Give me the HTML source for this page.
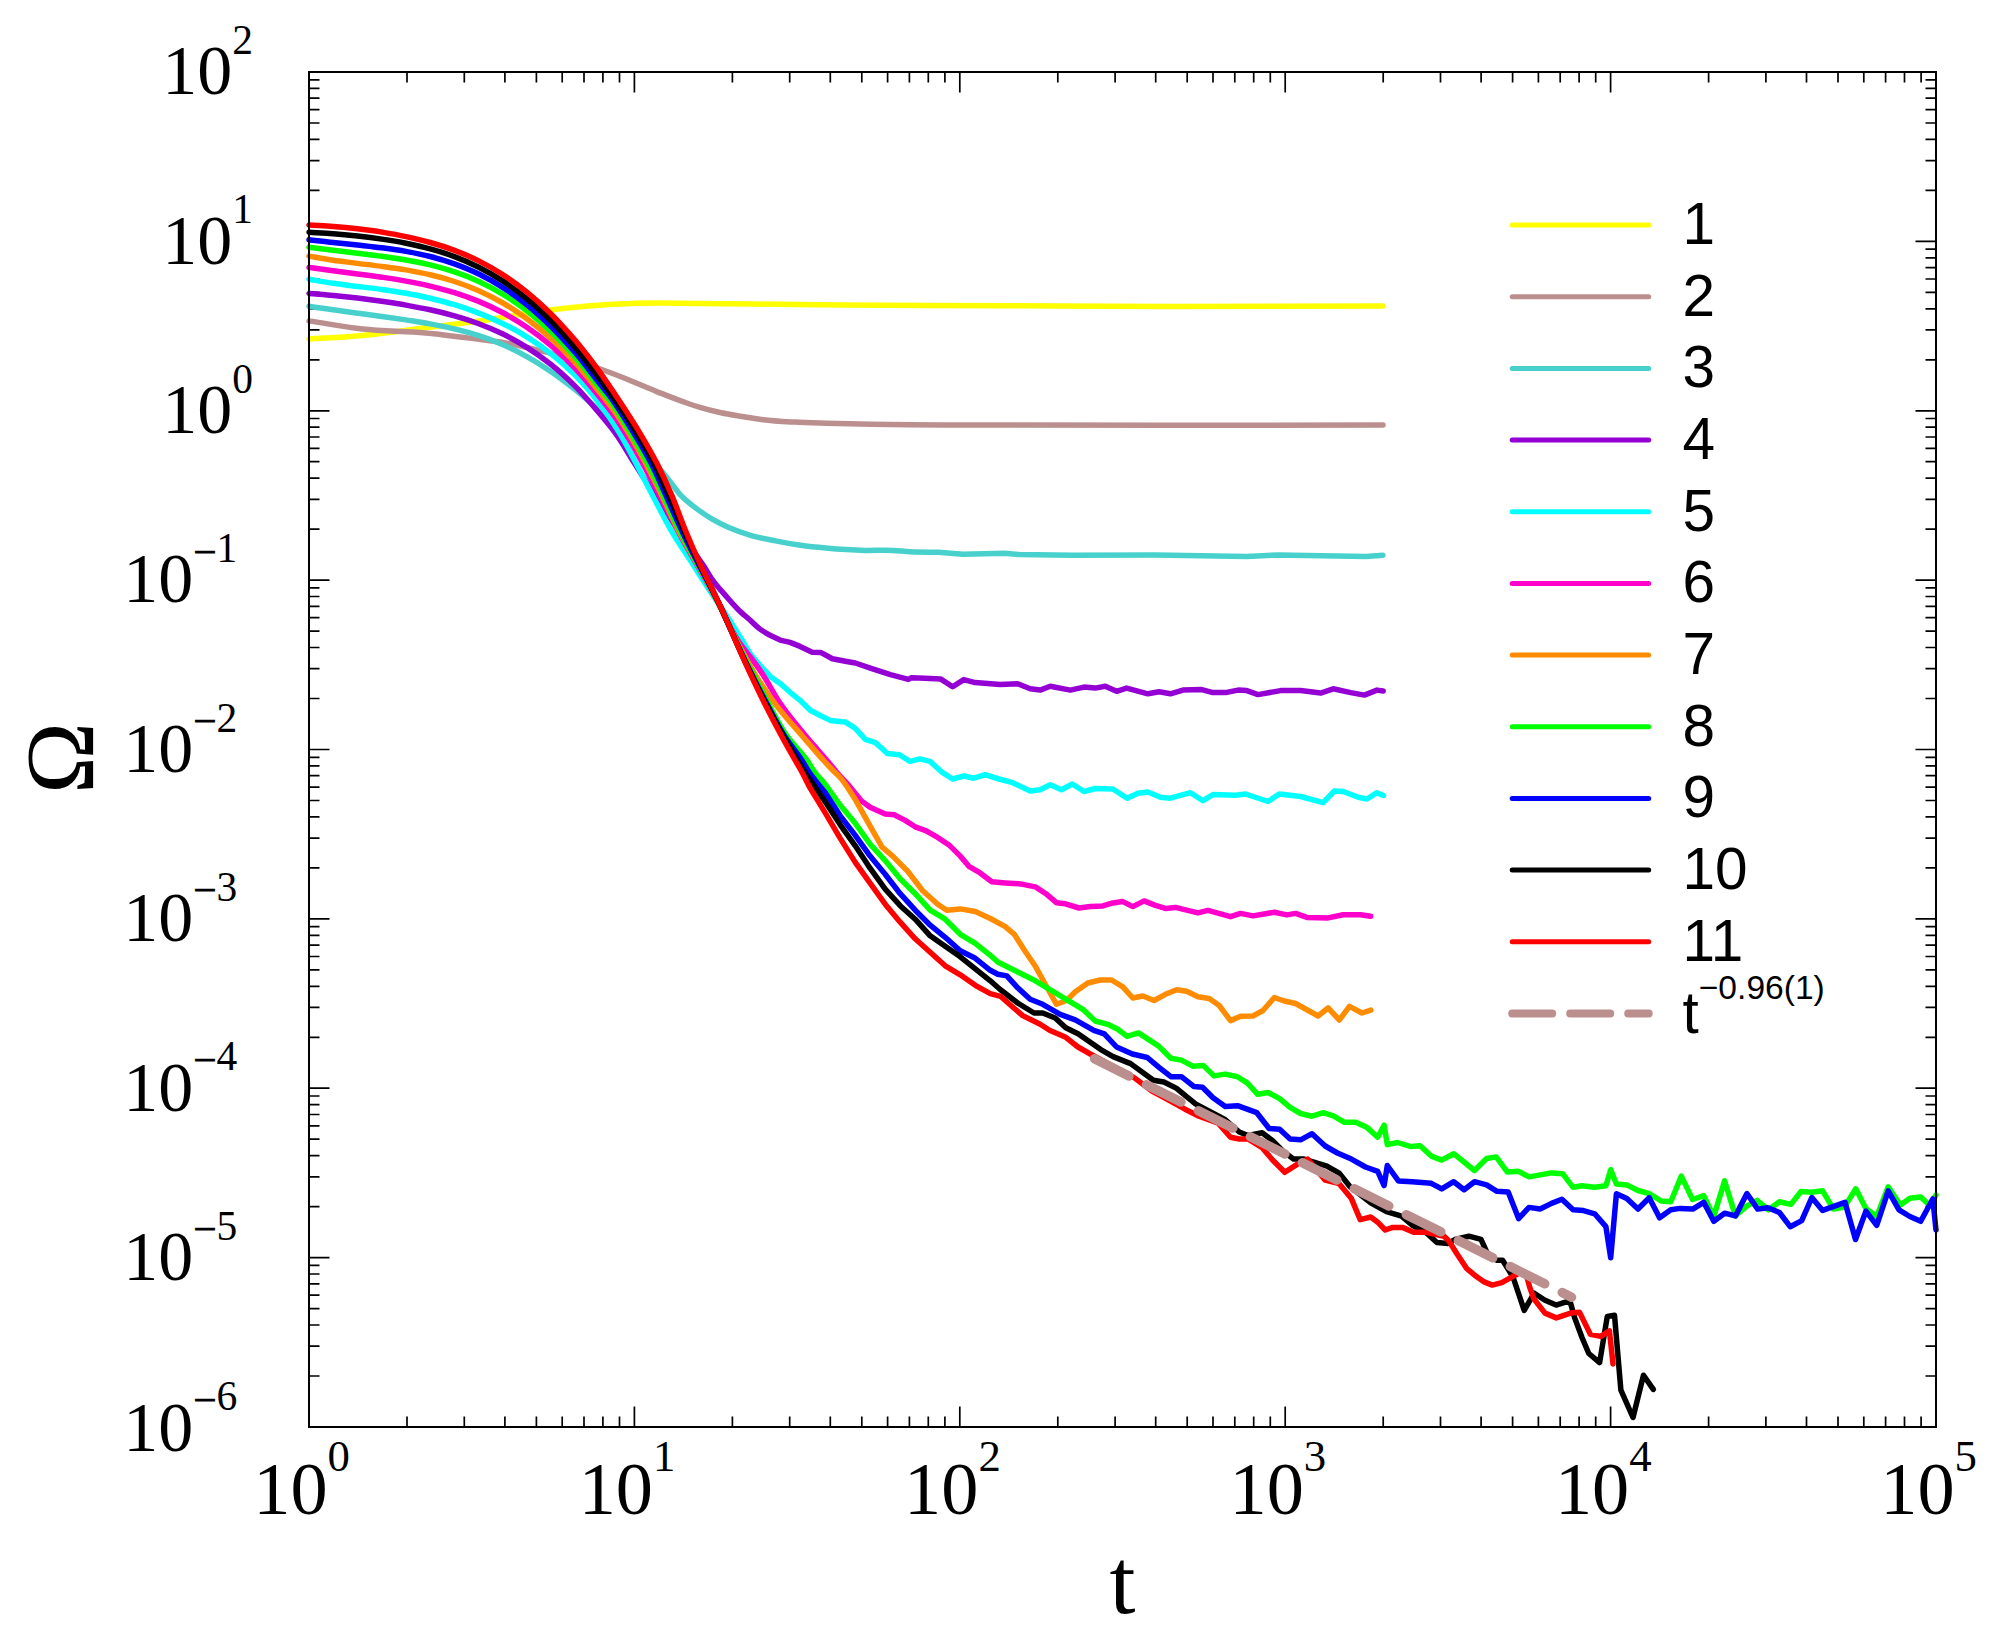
<!DOCTYPE html>
<html><head><meta charset="utf-8"><title>plot</title><style>html,body{margin:0;padding:0;background:#fff}svg{display:block}</style></head><body>
<svg width="1997" height="1635" viewBox="0 0 1997 1635">
<rect width="1997" height="1635" fill="#fff"/>
<path d="M407 1427v-10.5M407 72v10.5M464.3 1427v-10.5M464.3 72v10.5M504.9 1427v-10.5M504.9 72v10.5M536.4 1427v-10.5M536.4 72v10.5M562.2 1427v-10.5M562.2 72v10.5M584 1427v-10.5M584 72v10.5M602.9 1427v-10.5M602.9 72v10.5M619.5 1427v-10.5M619.5 72v10.5M634.4 1427v-20.5M634.4 72v20.5M732.4 1427v-10.5M732.4 72v10.5M789.7 1427v-10.5M789.7 72v10.5M830.3 1427v-10.5M830.3 72v10.5M861.8 1427v-10.5M861.8 72v10.5M887.6 1427v-10.5M887.6 72v10.5M909.4 1427v-10.5M909.4 72v10.5M928.3 1427v-10.5M928.3 72v10.5M944.9 1427v-10.5M944.9 72v10.5M959.8 1427v-20.5M959.8 72v20.5M1057.8 1427v-10.5M1057.8 72v10.5M1115.1 1427v-10.5M1115.1 72v10.5M1155.7 1427v-10.5M1155.7 72v10.5M1187.2 1427v-10.5M1187.2 72v10.5M1213 1427v-10.5M1213 72v10.5M1234.8 1427v-10.5M1234.8 72v10.5M1253.7 1427v-10.5M1253.7 72v10.5M1270.3 1427v-10.5M1270.3 72v10.5M1285.2 1427v-20.5M1285.2 72v20.5M1383.2 1427v-10.5M1383.2 72v10.5M1440.5 1427v-10.5M1440.5 72v10.5M1481.1 1427v-10.5M1481.1 72v10.5M1512.6 1427v-10.5M1512.6 72v10.5M1538.4 1427v-10.5M1538.4 72v10.5M1560.2 1427v-10.5M1560.2 72v10.5M1579.1 1427v-10.5M1579.1 72v10.5M1595.7 1427v-10.5M1595.7 72v10.5M1610.6 1427v-20.5M1610.6 72v20.5M1708.6 1427v-10.5M1708.6 72v10.5M1765.9 1427v-10.5M1765.9 72v10.5M1806.5 1427v-10.5M1806.5 72v10.5M1838 1427v-10.5M1838 72v10.5M1863.8 1427v-10.5M1863.8 72v10.5M1885.6 1427v-10.5M1885.6 72v10.5M1904.5 1427v-10.5M1904.5 72v10.5M1921.1 1427v-10.5M1921.1 72v10.5M309 1376h10.5M1936 1376h-10.5M309 1346.2h10.5M1936 1346.2h-10.5M309 1325h10.5M1936 1325h-10.5M309 1308.6h10.5M1936 1308.6h-10.5M309 1295.2h10.5M1936 1295.2h-10.5M309 1283.9h10.5M1936 1283.9h-10.5M309 1274h10.5M1936 1274h-10.5M309 1265.4h10.5M1936 1265.4h-10.5M309 1257.6h20.5M1936 1257.6h-20.5M309 1206.6h10.5M1936 1206.6h-10.5M309 1176.8h10.5M1936 1176.8h-10.5M309 1155.7h10.5M1936 1155.7h-10.5M309 1139.2h10.5M1936 1139.2h-10.5M309 1125.8h10.5M1936 1125.8h-10.5M309 1114.5h10.5M1936 1114.5h-10.5M309 1104.7h10.5M1936 1104.7h-10.5M309 1096h10.5M1936 1096h-10.5M309 1088.2h20.5M1936 1088.2h-20.5M309 1037.3h10.5M1936 1037.3h-10.5M309 1007.4h10.5M1936 1007.4h-10.5M309 986.3h10.5M1936 986.3h-10.5M309 969.9h10.5M1936 969.9h-10.5M309 956.5h10.5M1936 956.5h-10.5M309 945.1h10.5M1936 945.1h-10.5M309 935.3h10.5M1936 935.3h-10.5M309 926.6h10.5M1936 926.6h-10.5M309 918.9h20.5M1936 918.9h-20.5M309 867.9h10.5M1936 867.9h-10.5M309 838.1h10.5M1936 838.1h-10.5M309 816.9h10.5M1936 816.9h-10.5M309 800.5h10.5M1936 800.5h-10.5M309 787.1h10.5M1936 787.1h-10.5M309 775.7h10.5M1936 775.7h-10.5M309 765.9h10.5M1936 765.9h-10.5M309 757.3h10.5M1936 757.3h-10.5M309 749.5h20.5M1936 749.5h-20.5M309 698.5h10.5M1936 698.5h-10.5M309 668.7h10.5M1936 668.7h-10.5M309 647.5h10.5M1936 647.5h-10.5M309 631.1h10.5M1936 631.1h-10.5M309 617.7h10.5M1936 617.7h-10.5M309 606.4h10.5M1936 606.4h-10.5M309 596.5h10.5M1936 596.5h-10.5M309 587.9h10.5M1936 587.9h-10.5M309 580.1h20.5M1936 580.1h-20.5M309 529.1h10.5M1936 529.1h-10.5M309 499.3h10.5M1936 499.3h-10.5M309 478.2h10.5M1936 478.2h-10.5M309 461.7h10.5M1936 461.7h-10.5M309 448.3h10.5M1936 448.3h-10.5M309 437h10.5M1936 437h-10.5M309 427.2h10.5M1936 427.2h-10.5M309 418.5h10.5M1936 418.5h-10.5M309 410.8h20.5M1936 410.8h-20.5M309 359.8h10.5M1936 359.8h-10.5M309 329.9h10.5M1936 329.9h-10.5M309 308.8h10.5M1936 308.8h-10.5M309 292.4h10.5M1936 292.4h-10.5M309 279h10.5M1936 279h-10.5M309 267.6h10.5M1936 267.6h-10.5M309 257.8h10.5M1936 257.8h-10.5M309 249.1h10.5M1936 249.1h-10.5M309 241.4h20.5M1936 241.4h-20.5M309 190.4h10.5M1936 190.4h-10.5M309 160.6h10.5M1936 160.6h-10.5M309 139.4h10.5M1936 139.4h-10.5M309 123h10.5M1936 123h-10.5M309 109.6h10.5M1936 109.6h-10.5M309 98.2h10.5M1936 98.2h-10.5M309 88.4h10.5M1936 88.4h-10.5M309 79.8h10.5M1936 79.8h-10.5" fill="none" stroke="#000" stroke-width="1.7"/>
<g fill="none" stroke-width="5.5" stroke-linejoin="round" stroke-linecap="round">
<path stroke="#ffff00" d="M309 339.1C326.9 337.9 344.8 337.1 362.7 335.4C383.7 333.5 404.5 330.4 425.4 327.8C446.3 325.2 467.2 322.7 488.1 319.7C508.8 316.8 529.4 312.7 550.2 310.1C562.7 308.5 575.2 307.1 587.8 306C602.4 304.7 617 303.9 631.6 303.4C654.4 302.6 677.2 303.3 700 303.4C717.5 303.5 735.1 303.8 752.6 304C781.8 304.3 811 304.7 840.2 305C898.6 305.5 957.1 305.4 1015.5 305.8C1029.5 305.9 1043.5 306 1057.5 306.1C1166 306.8 1274.5 306.1 1383 306.1"/>
<path stroke="#bc8f8f" d="M309 320.9C326.9 323.6 344.7 327.1 362.7 329.1C383.5 331.4 404.6 331 425.4 332.9C446.4 334.8 467.2 337.9 488.1 340.5C492.1 341 496 341.4 500 342C510.5 343.6 520.9 346.1 531.3 348.5C537.6 350 543.9 351.4 550.2 353.1C558.6 355.4 566.9 358.2 575.2 360.8C583.6 363.5 592 366.1 600.3 369C608.7 372 617.1 375.2 625.4 378.5C635.9 382.7 646.2 387.4 656.7 391.6C667.1 395.7 677.5 399.9 688.1 403.5C692 404.8 696 406.2 700 407.4C706.9 409.5 713.9 411.2 721 412.7C728 414.2 735.1 415.3 742.1 416.5C749.1 417.7 756.1 418.8 763.1 419.7C773.5 421 784.1 421.5 794.6 422.1C805.1 422.7 815.7 422.9 826.2 423.2C841.4 423.6 856.5 423.9 871.7 424.2C896.3 424.6 920.8 424.7 945.4 424.9C1091.3 426.1 1237.1 424.9 1383 424.9"/>
<path stroke="#48d1cc" d="M309 306.3C317.1 307.4 325.2 308.6 333.2 309.7C341.3 310.9 349.4 312.1 357.5 313.2C365.6 314.3 373.7 315.4 381.8 316.5C389.8 317.7 397.9 318.7 406 319.9C414.1 321.2 422.2 322.4 430.2 323.9C438.4 325.4 446.5 326.9 454.5 328.9C462.7 330.9 470.8 333.1 478.8 335.7C487 338.3 495.1 341.4 503 344.8C511.3 348.4 519.4 352.4 527.2 356.8C535.6 361.4 543.6 366.6 551.5 372C559.8 377.7 567.9 383.9 575.8 390.2C584.1 396.9 592 404 600 411.1C604 414.7 608 418.3 612 422C620.5 429.8 628.8 437.9 637 446C644.7 453.6 652.9 460.8 660 469C664.2 473.9 668.1 479.2 672.1 484.3C674.8 487.7 677.2 491.4 680.1 494.6C684.8 499.8 690.6 504.1 696.2 508.4C701.3 512.3 706.7 516 712.2 519.2C717.4 522.2 722.7 524.9 728.2 527.3C735.4 530.5 742.9 533.1 750.5 535.3C758.7 537.7 767.1 539.2 775.5 540.9C783.8 542.6 792.2 544.1 800.6 545.3C808.9 546.5 817.3 547.3 825.7 548C838.7 549.2 851.7 550.1 864.7 550.4C874.1 550.6 883.5 549.9 892.8 550.4C898.6 550.7 904.5 551.5 910.3 551.8C919.6 552.3 929 552.1 938.3 552.2L962.9 554.3L1004.9 553.2L1019 554.6L1071.5 555.3L1155.6 555L1201.2 555.7L1246.8 556.4L1278.3 555L1366 556.4L1383 555.2"/>
<path stroke="#9400d3" d="M309 293.4C317.1 294.1 325.2 294.6 333.2 295.4C341.3 296.2 349.4 297.1 357.5 298.1C365.6 299.1 373.7 300.2 381.8 301.3C389.8 302.5 397.9 303.7 406 305.1C414.1 306.6 422.2 308.1 430.2 309.8C438.4 311.6 446.5 313.6 454.5 315.9C462.7 318.2 470.8 320.7 478.8 323.7C487 326.8 495.1 330.2 503 334C511.3 338.1 519.4 342.6 527.2 347.6C535.6 352.8 543.8 358.7 551.5 364.9C560 371.7 568.1 379.2 575.8 386.9C584.3 395.5 592.2 404.8 600 414.1C605 420 610 425.9 614.6 432.1C622.1 442.2 628.2 453.4 635 464.1C641.3 474.1 647.5 484.1 654 494C662.1 506.5 670.5 518.8 679 531C687.2 542.9 696.2 554.4 704.1 566.6C707.1 571.2 709.6 576 712.8 580.4C716.6 585.7 721.1 590.5 725.4 595.4C729.5 600.1 733.5 604.8 737.9 609.2C741.9 613.2 746.3 616.7 750.5 620.5C753.7 623.4 756.6 626.6 760 629.1C763.1 631.4 766.7 633.2 770 635.3L780.1 640.1L790.1 642.4L800.1 646.4L812.2 652.2L820.6 652.4L832.4 658.7L845.3 661.2L855.3 663L870.3 668.2L890.4 674.7L908.4 679.4L911.5 677.7L925 678.3L940.5 678.9L952.6 686.8L963.8 679.6L975.1 682.6L1000.2 684.6L1017.7 683.8L1030.2 688.8L1040.2 690.1L1050.2 686.3L1070.3 690.1L1084 687.1L1095.3 688.1L1105.3 686.3L1116.6 691.3L1126.6 688.1L1147.9 693.8L1159.1 691.8L1170.4 693.8L1182.9 690.1L1201.7 689.6L1213 692.6L1225.5 692.6L1238 690.1L1246.8 690.6L1258 694.6L1280.6 690.6L1300.6 690.6L1320.6 693.1L1333.2 688.8L1350.7 692.6L1364.4 695.1L1377 690.1L1383.2 691"/>
<path stroke="#00ffff" d="M309 279.2C317.1 280.6 325.1 282.1 333.2 283.3C341.3 284.5 349.4 285.4 357.5 286.4C365.6 287.4 373.7 288.3 381.8 289.5C389.8 290.6 398 291.8 406 293.3C414.1 294.7 422.2 296.3 430.2 298.2C438.4 300.2 446.5 302.3 454.5 304.7C462.7 307.2 470.8 310 478.8 313.1C487 316.3 495.1 319.8 503 323.7C511.3 327.7 519.4 332.2 527.2 337.1C535.6 342.3 543.8 348 551.5 354.1C560 360.8 568.1 368.2 575.8 375.9C584.4 384.7 592.5 394.3 600 404.1C606.8 413.1 613.1 422.5 619 432.1C625.4 442.5 630.8 453.4 636.5 464.1C642.1 474.7 647.4 485.5 653 496.2C659.1 507.8 664.9 519.7 671.5 531C677.9 541.9 685.1 552.2 691.9 562.8C697.9 572.2 703.9 581.7 710 591C715.9 599.9 722.1 608.6 727.9 617.5C732.7 624.9 737.3 632.5 742 640C745.3 645.3 748.2 651 752 656C754.5 659.3 757.3 662.3 760 665.4L770 676.2L780.1 683.4L790.1 692.3L800.1 700.3L810.2 710.3L820.2 715.5L830.2 720.4L845.3 721.9L855.3 728.4L865.3 739.4L875.4 742.6L887.4 753.5L899.4 754.7L910 761.4L920 758.9L930 761.4L942.6 772.7L952.6 779L963.8 776L973.9 778.2L985.1 774.7L998.9 779L1012.7 782.7L1030.2 791L1040.2 789.7L1050.2 784.7L1061.5 789.7L1072.3 784L1084 791.5L1095.3 788.5L1112.8 789L1127.1 798.2L1137.9 793.2L1147.9 792L1160.4 797.2L1170.4 798.2L1190.4 792.7L1203 800.7L1213 794.5L1235.5 795.2L1245.5 794L1268 801.5L1279.3 794L1300.6 796.5L1323.1 802.7L1334.4 791L1343.2 791.5L1358.2 797.2L1367 799L1377 792.7L1383.4 795.5"/>
<path stroke="#ff00cc" d="M309 267.4C317.1 268.5 325.2 269.7 333.2 270.8C341.3 271.8 349.4 272.8 357.5 273.9C365.6 274.9 373.7 276 381.8 277.2C389.8 278.4 397.9 279.6 406 281.1C414.1 282.6 422.2 284.2 430.2 286.1C438.4 288.1 446.5 290.2 454.5 292.7C462.7 295.3 470.8 298.2 478.8 301.4C487 304.8 495.1 308.6 503 312.8C511.3 317.2 519.4 322.1 527.2 327.4C535.7 333.1 543.8 339.4 551.5 346C560 353.2 568.1 361 575.8 369.1C584.3 378.1 592.2 387.8 600 397.5C604.7 403.3 609.4 409.1 613.7 415.2C619.2 422.9 624.1 431.1 629 439.2C633.7 447.1 638.2 455.1 642.6 463.2C647 471.1 651 479.2 655.2 487.2C659.4 495.2 663.5 503.2 667.7 511.2C671.8 519.2 675.9 527.3 680.2 535.2C684.5 543.3 689.2 551.2 693.7 559.2C698.3 567.2 702.9 575.2 707.4 583.2C711.9 591.2 716.7 599 720.8 607.2C723.2 612.1 725.2 617.1 727.7 622C731.5 629.5 735.4 637 740.2 643.9C743.1 648.1 746.5 651.9 749.6 656C753.6 661.3 757.6 666.6 761.3 672.1C768.3 682.4 773.6 693.8 780.7 704.1C788.4 715.3 797.2 725.8 806 736.2C809.9 740.9 813.9 745.4 817.9 750C822.1 754.8 826.4 759.6 830.4 764.5C832.2 766.6 833.8 768.9 835.6 771C839.4 775.5 843.6 779.7 847.6 784L861.1 800.6L870.1 807.3L885.2 814.1L894.2 814.8L904.7 820.1L915.2 826.8L925.7 830.6L937.7 837.4L949.7 845.6L960.3 856.1L969.3 866.7L979.8 872.7L991.8 881.7L1005.3 882.9L1020.3 883.9L1035.4 886.9L1045.9 893.7L1056.4 902.7L1065.4 903.8L1079 908L1090.3 906.6L1102.8 905.9L1112.8 902.9L1122.8 901.6L1132.8 906.6L1144.1 900.9L1155.4 905.4L1165.4 908.4L1175.4 907.4L1197.9 912.9L1208 910.4L1230.5 916.7L1240.5 913.4L1253 915.9L1274.3 912.2L1286.8 914.9L1295.6 913.4L1306.9 917.4L1328.1 917.9L1343.2 914.7L1360.7 914.7L1370.7 916.3"/>
<path stroke="#ff8c00" d="M309 256.1C317.1 257.5 325.1 259 333.2 260.2C341.3 261.4 349.4 262.3 357.5 263.4C365.6 264.4 373.7 265.3 381.8 266.4C389.8 267.5 398 268.6 406 269.9C414.1 271.4 422.2 272.9 430.2 274.8C438.4 276.7 446.5 278.9 454.5 281.5C462.7 284.2 470.8 287.2 478.8 290.7C487 294.4 495.2 298.5 503 303C511.4 307.9 519.5 313.3 527.2 319C535.7 325.2 543.8 332 551.5 339C560 346.7 568 355 575.8 363.5C584.3 372.9 592 382.9 600 392.8C604.1 397.8 608.3 402.8 612.2 408C617.9 415.7 623 423.8 628 432C632.8 439.8 637.3 447.9 641.7 456C646 463.9 650.1 471.9 654.2 480C658.2 487.9 662 496 665.9 504C669.7 512 673.2 520.1 677.2 528C681.3 536.1 686 544 690.4 552C694.8 560 699.3 568 703.8 576C708.2 584 712.7 591.9 716.9 600C720.6 607.2 723.9 614.7 727.5 622C731.1 629.3 734.5 636.8 738.3 644C740.4 648 742.6 652 744.8 656C747.7 661.4 750.6 666.8 753.7 672.1C760.3 683.2 767.6 693.8 775.4 704.1C783.8 715.3 793.4 725.6 802.5 736.2C810 744.9 817.3 753.6 825.1 762C827.9 765 830.7 768 833.6 771C835.7 773.2 838 775.2 840.1 777.5C846 784 850.1 791.9 855.1 799.1L870.1 826.1L882.1 847.1L892.7 856.1L907.7 871.2L922.7 890.7L937.7 904.2L946.7 910.2L960.3 908.9L975.3 911.5L990.3 918.5L1005.3 926.7L1014.3 934.3L1024.9 951L1035.4 966.3L1047.4 988L1056.5 1004.3L1066.5 1000.5L1075.3 991.8L1087.8 983L1100.3 980L1111.6 980L1122.8 986.8L1132.8 998L1142.9 996L1154.1 1000.5L1165.4 994.3L1176.7 989.8L1186.7 991.3L1197.9 996.8L1209.2 998.5L1219.2 1005.5L1230.5 1020.6L1240.5 1016.3L1253 1016L1263 1010.5L1274.3 997.5L1284.3 1001L1295.6 1003.5L1318.1 1016L1328.1 1008L1339.4 1020L1349.4 1006.3L1361.9 1013L1370.8 1010.1"/>
<path stroke="#00ff00" d="M309 247.3C317.1 248.3 325.2 249.3 333.2 250.3C341.3 251.3 349.4 252.2 357.5 253.2C365.6 254.2 373.7 255.1 381.8 256.3C389.8 257.4 398 258.5 406 260C414.1 261.4 422.2 263 430.2 264.9C438.4 266.9 446.5 269.2 454.5 271.9C462.7 274.6 470.9 277.8 478.8 281.4C487.1 285.2 495.2 289.6 503 294.3C511.4 299.4 519.5 305.1 527.2 311.1C535.7 317.7 543.8 324.9 551.5 332.3C560 340.4 568 349.2 575.8 358C584.3 367.8 591.8 378.4 600 388.5C603.4 392.6 607 396.6 610.2 400.9C616 408.5 620.8 416.8 625.8 424.9C630.7 432.8 635.3 440.8 639.9 448.9C644.3 456.8 648.5 464.8 652.6 472.9C656.5 480.8 660.3 488.9 664 496.9C667.7 504.9 671 513 674.8 520.9C678.7 529 682.9 537 687.1 544.9C691.4 553 695.9 560.9 700.2 568.9C704.6 576.9 709.1 584.8 713.3 592.9C718.3 602.5 722.8 612.3 727.4 622C730.9 629.3 734.1 636.7 737.7 644C742.3 653.5 747.2 662.8 752 672.1C757.5 682.8 762.9 693.5 768.7 704.1C774.6 714.9 780 726.2 787.1 736.2C793.1 744.6 801.1 751.5 807 760C809.5 763.6 811.5 767.5 814 771C817.3 775.6 821.4 779.7 825.1 784L840.1 805.1L855.1 823.1L870.1 844.1L885.2 860.6L900.2 878.7L915.2 893.7L930.2 910.2L945.2 919.2L960.3 934.3L975.3 943.3L990.3 955.3L997.8 962L1020.3 973.3L1035.4 980.8L1050.4 989.8L1065.4 998.8L1082.8 1009.3L1095.3 1021L1107.8 1024.3L1117.8 1029.3L1127.1 1036.4L1138.5 1032.9L1158.7 1046.1L1170.9 1058.3L1181.4 1060.1L1192.8 1066.2L1203.3 1065.4L1213.9 1075.9L1225.3 1074.1L1237.5 1076.7L1247.2 1082.9L1257.7 1094.3L1268.2 1092.5L1279.6 1098.7L1290.1 1107.4L1300.6 1113.5L1312 1116.2L1323.4 1112.7L1333.9 1116.2L1344.4 1122.3L1355.8 1122.3L1367.2 1127.6L1377.7 1137.2L1384.1 1125.2L1387.3 1144.6L1397.6 1142.5L1410.4 1146.5L1420.1 1145.7L1431.3 1156.1L1441.7 1160.1L1453.7 1153.7L1474.5 1170.5L1486.6 1158.5L1496.2 1156.9L1507.4 1172.1L1518.6 1171.3L1529 1176.9L1551.5 1172.9L1562.7 1173.7L1573.1 1187.3L1581.9 1185.7L1594.7 1187.3L1605.9 1185.7L1610.7 1169.7L1616.4 1184.1L1626.8 1184.9L1638 1190.5L1649.2 1193.7L1661.2 1201L1670.8 1201.8L1681.3 1176.1L1692.6 1199.5L1703.7 1195.6L1713.8 1216.5L1724.6 1180.7L1735.4 1215.9L1746.3 1206.4L1757.1 1200.3L1768.6 1209.8L1779.4 1201.7L1790.9 1204.4L1801 1191.5L1811.8 1192.2L1822.6 1190.8L1833.5 1209.1L1844.3 1207.1L1855.8 1188.8L1865.9 1208.4L1876.7 1216.5L1888.2 1186.8L1900.4 1205L1909.9 1198.3L1920.7 1196.9L1930.1 1205.7L1936 1194.9"/>
<path stroke="#0000ff" d="M309 239.7C317.1 240.6 325.2 241.6 333.2 242.4C341.3 243.3 349.4 244.1 357.5 245C365.6 245.9 373.7 246.7 381.8 247.8C389.9 248.9 398 250 406 251.4C414.1 252.9 422.3 254.5 430.2 256.5C438.4 258.6 446.6 261 454.5 263.8C462.7 266.8 470.9 270.1 478.8 274C487.1 278 495.2 282.6 503 287.6C511.4 292.9 519.5 298.9 527.2 305.1C535.7 311.9 543.8 319.4 551.5 327C560 335.4 568 344.3 575.8 353.3C584.2 363.2 591.9 373.8 600 384C602.9 387.6 606 391.2 608.8 394.9C614.7 402.6 619.8 410.8 625 418.9C630.1 426.8 635 434.8 639.7 442.9C644.3 450.8 648.9 458.7 653 466.9C656.9 474.8 660.3 482.9 663.9 490.9C667.5 498.9 670.9 506.9 674.6 514.9C678.2 522.9 681.9 531 685.7 538.9C689.6 547 693.8 554.9 697.9 562.9C702.1 570.9 706.5 578.8 710.6 586.9C714.6 594.8 718.7 602.8 722.5 610.9C724.1 614.6 725.7 618.3 727.4 622C730.7 629.3 733.9 636.7 737.2 644C740.6 651.4 744 658.7 747.6 666C751.2 673.4 754.9 680.7 758.6 688C761.4 693.4 764.2 698.8 767 704.1C772.7 714.9 778.1 725.9 784.7 736.2C789.9 744.4 796.4 751.8 801.7 760C804 763.6 806 767.4 808.4 771C813.4 778.6 819.5 785.3 825.1 792.5L840.1 815.6L855.1 835.1L870.1 856.1L885.2 874.2L900.2 893.7L915.2 910.2L930.2 925.2L945.2 937.3L960.3 950.8L975.3 958.3L990.3 970.3L997.8 974.3L1006.8 975.9L1017.7 987.8L1030.2 999.3L1042.7 1004.3L1060.2 1014.3L1075.3 1019.8L1093.8 1030.3L1104.3 1033.8L1116.6 1047L1132.4 1054L1147.3 1057.5L1158.7 1067.1L1170.9 1076.7L1181.4 1076.7L1193.7 1086.4L1202.5 1087.3L1213 1097.8L1225.3 1106.5L1237.5 1105.7L1256.8 1112.7L1269.1 1128.5L1279.6 1129.3L1290.1 1139L1300.6 1139.8L1312 1133.7L1325.2 1146L1337.4 1153L1351.4 1159.1L1365.5 1167L1377.7 1171.4L1384.1 1185.6L1387.3 1165.5L1398.4 1180.9L1412 1181.7L1431.3 1183.3L1441.7 1188.9L1453.7 1181.7L1464.1 1189.7L1474.5 1181.7L1486.6 1184.9L1497 1191.3L1508.2 1192.1L1518.6 1218.6L1529 1207.4L1540.2 1209L1551.5 1203.4L1561.9 1199.3L1573.1 1209.8L1583.5 1210.6L1594.7 1213.8L1605.9 1226.6L1610.7 1257.8L1616.4 1193.7L1626.8 1198.5L1638 1209L1649.2 1197.7L1659.6 1217.8L1670.8 1209.8L1680 1208.4L1692.8 1209.1L1703.7 1202.3L1713.8 1221.3L1724.6 1213.2L1735.4 1215.9L1746.9 1193.5L1757.7 1209.1L1767.9 1207.7L1779.4 1212.5L1790.2 1226.7L1801.7 1220.6L1811.8 1197.6L1822.6 1210.4L1845 1202.3L1855.5 1239.5L1865.9 1211.1L1876.7 1225.3L1888.2 1190.8L1899 1209.8L1909.9 1216.5L1920.7 1221.3L1932.8 1199L1936 1230"/>
<path stroke="#000000" d="M309 232.2C317.1 232.7 325.2 233 333.2 233.7C341.3 234.3 349.4 235.1 357.5 236C365.6 236.9 373.7 237.9 381.8 239.1C389.9 240.3 398 241.6 406 243.2C414.1 244.9 422.3 246.7 430.2 248.9C438.4 251.1 446.6 253.6 454.5 256.6C462.7 259.7 470.9 263.2 478.8 267.2C487.1 271.3 495.2 276 503 281.1C511.4 286.6 519.5 292.7 527.2 299.1C535.7 306 543.8 313.6 551.5 321.4C560 329.9 568 338.9 575.8 348.1C584.2 358.1 592.2 368.6 600 379.1C608.3 390.3 616.5 401.6 624.2 413.2C629.4 421.1 634.5 429.1 639.3 437.2C644.1 445.1 648.7 453 653 461.2C657 469 660.6 477.2 664.2 485.2C667.8 493.2 671.3 501.2 674.8 509.2C678.3 517.2 681.5 525.3 685.1 533.2C688.7 541.3 692.5 549.2 696.4 557.2C700.2 565.2 704.3 573.2 708.2 581.2C712.1 589.2 716 597.2 719.7 605.2C722.3 610.8 724.8 616.4 727.4 622C730.7 629.3 733.8 636.7 737.1 644C740.4 651.4 743.8 658.7 747.2 666C750.7 673.4 754.2 680.7 757.9 688C761.5 695.4 765.3 702.7 769.1 710C773.8 718.8 778.6 727.6 783.5 736.2C788.1 744.2 792.9 752 797.6 760C799.7 763.7 801.7 767.4 804 771C806.2 774.4 808.7 777.7 811 781L825.1 801.6L840.1 824.6L855.1 845.6L870.1 868.2L885.2 889.2L900.2 905.7L915.2 919.2L930.2 935.8L945.2 946.3L960.3 956.8L975.3 968.8L990.3 980.8L1000.2 989.5L1017.7 1003L1034 1013L1042.7 1013L1055.2 1018L1065.8 1027.7L1078 1033.8L1100.8 1049.6L1113.1 1056.6L1130.6 1063.6L1153.4 1080.3L1163.9 1082L1176.2 1088.1L1195.5 1103.9L1225.3 1119.7L1239.3 1132L1248 1135.5L1262.1 1132.8L1272.6 1140.7L1283.1 1151.2L1293.6 1159.1L1304.1 1159.1L1326.9 1166.1L1339.2 1173.1L1349.7 1186.3L1370.7 1202.9L1386.5 1211.7L1401.6 1216.2L1412 1225L1426.5 1233L1436.9 1242.6L1448.1 1243.4L1455.3 1239.4L1468.9 1236.2L1481 1239.4L1489 1257L1497 1260.2L1502.6 1260.2L1513 1277L1524.2 1310.4L1534.2 1293.2L1545 1300.3L1556.1 1305.1L1567 1301.6L1570.7 1303.5L1574.7 1317.9L1581.9 1337.2L1588.8 1353.5L1599.6 1362.6L1607.3 1316.4L1614.5 1315.3L1620.9 1390.2L1633 1417.5L1643.5 1375.2L1653.3 1389.4"/>
<path stroke="#ff0000" d="M309 225C317.1 225.5 325.2 225.8 333.2 226.4C341.3 227 349.4 227.8 357.5 228.8C365.6 229.8 373.7 230.8 381.8 232.1C389.9 233.4 398 234.8 406 236.6C414.1 238.3 422.3 240.2 430.2 242.5C438.4 244.8 446.6 247.4 454.5 250.4C462.7 253.5 470.9 257 478.8 260.9C487.1 265.1 495.2 269.7 503 274.8C511.4 280.2 519.5 286.2 527.2 292.4C535.7 299.3 543.8 306.7 551.5 314.4C560 322.9 568 331.9 575.8 341C584.3 351.1 592.3 361.6 600 372.3C606.5 381.4 612.7 390.7 618.8 400C625.8 410.6 632.8 421.2 639.3 432.1C645.6 442.6 651.7 453.2 657.3 464.1C662.6 474.6 667.5 485.4 672.1 496.2C677 507.7 680.9 519.5 685.7 531C690.1 541.7 694.7 552.3 699.5 562.8C703.6 571.7 708.1 580.4 712.3 589.2C716.8 598.6 721.2 608 725.4 617.5C728.7 625 731.9 632.5 735.2 640C739.9 650.7 744.7 661.5 749.6 672.1C754.6 682.8 759.6 693.5 764.9 704.1C770.3 714.9 775.9 725.6 781.7 736.2C786 744.2 790.5 752.1 795 760C797.1 763.7 799.3 767.3 801.3 771C804.2 776.3 806.8 781.7 809.5 787L825.1 812.6L840.1 838.1L855.1 862.1L870.1 883.2L885.2 904.2L900.2 922.2L915.2 938.8L930.2 952.3L945.2 965.8L960.3 974.8L975.3 985.3L990.3 993.6L1000.5 996.3L1010.7 1005.2L1022.7 1015.6L1040.2 1024.3L1050 1030.5L1065.8 1037.3L1078 1047L1090.3 1054L1134.1 1077.6L1151.6 1090.8L1169.2 1100.4L1185 1109.2L1199 1116.2L1218.2 1123.2L1230.5 1137.2L1239.3 1139L1248 1139L1262.1 1147.7L1272.6 1160L1284.8 1172.3L1297.1 1164.4L1307.6 1159.1L1325.2 1180.2L1339.2 1183.7L1351.4 1198.6L1360.2 1219.6L1370.7 1217L1377.7 1222.2L1385.2 1230L1392.8 1227.4L1402.4 1227.4L1413.6 1232.2L1426.5 1232.2L1444.1 1236.2L1448.9 1241L1456.9 1253.8L1466.5 1268.3L1476.1 1276.3L1484.2 1281.9L1492.2 1285.1L1501.8 1282.7L1513 1276.3L1522.6 1271.5L1525.8 1273L1529.8 1287.5L1533.8 1298.7L1545 1313.1L1556.3 1317.9L1570.7 1313.1L1579.5 1312.3L1590.4 1334.4L1600.8 1336.4L1609.4 1330.8L1613 1363.9"/>
</g>
<path d="M1094.5 1058.8 L1571.5 1297.2" fill="none" stroke="#bc8f8f" stroke-width="9.5" stroke-linecap="round" stroke-dasharray="38.5 19.6"/>
<rect x="309" y="72" width="1627" height="1355" fill="none" stroke="#000" stroke-width="2"/>
<g font-family='"Liberation Serif", serif' font-size="70" fill="#000">
<text x="162.2" y="94.3">10<tspan dy="-40.3" font-size="41.5">2</tspan></text>
<text x="162.2" y="263.7">10<tspan dy="-40.3" font-size="41.5">1</tspan></text>
<text x="162.2" y="433.1">10<tspan dy="-40.3" font-size="41.5">0</tspan></text>
<text x="123.2" y="602.4">10<tspan dy="-36.9" font-size="41.5" stroke="#000" stroke-width="0.7">−</tspan><tspan dy="-3.4" font-size="41.5">1</tspan></text>
<text x="123.2" y="771.8">10<tspan dy="-36.9" font-size="41.5" stroke="#000" stroke-width="0.7">−</tspan><tspan dy="-3.4" font-size="41.5">2</tspan></text>
<text x="123.2" y="941.2">10<tspan dy="-36.9" font-size="41.5" stroke="#000" stroke-width="0.7">−</tspan><tspan dy="-3.4" font-size="41.5">3</tspan></text>
<text x="123.2" y="1110.5">10<tspan dy="-36.9" font-size="41.5" stroke="#000" stroke-width="0.7">−</tspan><tspan dy="-3.4" font-size="41.5">4</tspan></text>
<text x="123.2" y="1279.9">10<tspan dy="-36.9" font-size="41.5" stroke="#000" stroke-width="0.7">−</tspan><tspan dy="-3.4" font-size="41.5">5</tspan></text>
<text x="123.2" y="1450.5">10<tspan dy="-36.9" font-size="41.5" stroke="#000" stroke-width="0.7">−</tspan><tspan dy="-3.4" font-size="41.5">6</tspan></text>
</g>
<g font-family='"Liberation Serif", serif' font-size="74.3" fill="#000">
<text x="253.3" y="1514.2">10<tspan dy="-43.6" font-size="44.8">0</tspan></text>
<text x="578.7" y="1514.2">10<tspan dy="-43.6" font-size="44.8">1</tspan></text>
<text x="904.1" y="1514.2">10<tspan dy="-43.6" font-size="44.8">2</tspan></text>
<text x="1229.5" y="1514.2">10<tspan dy="-43.6" font-size="44.8">3</tspan></text>
<text x="1554.9" y="1514.2">10<tspan dy="-43.6" font-size="44.8">4</tspan></text>
<text x="1880.3" y="1514.2">10<tspan dy="-43.6" font-size="44.8">5</tspan></text>
</g>
<text x="1122.5" y="1613" font-family='"Liberation Serif", serif' font-size="93.6" text-anchor="middle">t</text>
<text transform="translate(93,758) rotate(-90)" font-family='"Liberation Serif", serif' font-size="97" text-anchor="middle">Ω</text>
<g font-family='"Liberation Sans", sans-serif' font-size="58.5" fill="#000">
<path d="M1512.2 225.1H1648.7" stroke="#ffff00" stroke-width="5" stroke-linecap="round" fill="none"/>
<text x="1682.5" y="243.8">1</text>
<path d="M1512.2 296.8H1648.7" stroke="#bc8f8f" stroke-width="5" stroke-linecap="round" fill="none"/>
<text x="1682.5" y="315.5">2</text>
<path d="M1512.2 368.4H1648.7" stroke="#48d1cc" stroke-width="5" stroke-linecap="round" fill="none"/>
<text x="1682.5" y="387.1">3</text>
<path d="M1512.2 440.1H1648.7" stroke="#9400d3" stroke-width="5" stroke-linecap="round" fill="none"/>
<text x="1682.5" y="458.8">4</text>
<path d="M1512.2 511.8H1648.7" stroke="#00ffff" stroke-width="5" stroke-linecap="round" fill="none"/>
<text x="1682.5" y="530.5">5</text>
<path d="M1512.2 583.5H1648.7" stroke="#ff00cc" stroke-width="5" stroke-linecap="round" fill="none"/>
<text x="1682.5" y="602.2">6</text>
<path d="M1512.2 655.1H1648.7" stroke="#ff8c00" stroke-width="5" stroke-linecap="round" fill="none"/>
<text x="1682.5" y="673.8">7</text>
<path d="M1512.2 726.8H1648.7" stroke="#00ff00" stroke-width="5" stroke-linecap="round" fill="none"/>
<text x="1682.5" y="745.5">8</text>
<path d="M1512.2 798.5H1648.7" stroke="#0000ff" stroke-width="5" stroke-linecap="round" fill="none"/>
<text x="1682.5" y="817.2">9</text>
<path d="M1512.2 870.1H1648.7" stroke="#000000" stroke-width="5" stroke-linecap="round" fill="none"/>
<text x="1682.5" y="888.8">10</text>
<path d="M1512.2 941.8H1648.7" stroke="#ff0000" stroke-width="5" stroke-linecap="round" fill="none"/>
<text x="1682.5" y="960.5">11</text>
<path d="M1512.2 1013.5H1648.7" stroke="#bc8f8f" stroke-width="8" stroke-linecap="round" stroke-dasharray="40 18" fill="none"/>
<text x="1682.5" y="1032.8">t<tspan dy="-34" font-size="33.6">−0.96(1)</tspan></text>
</g>
</svg>
</body></html>
